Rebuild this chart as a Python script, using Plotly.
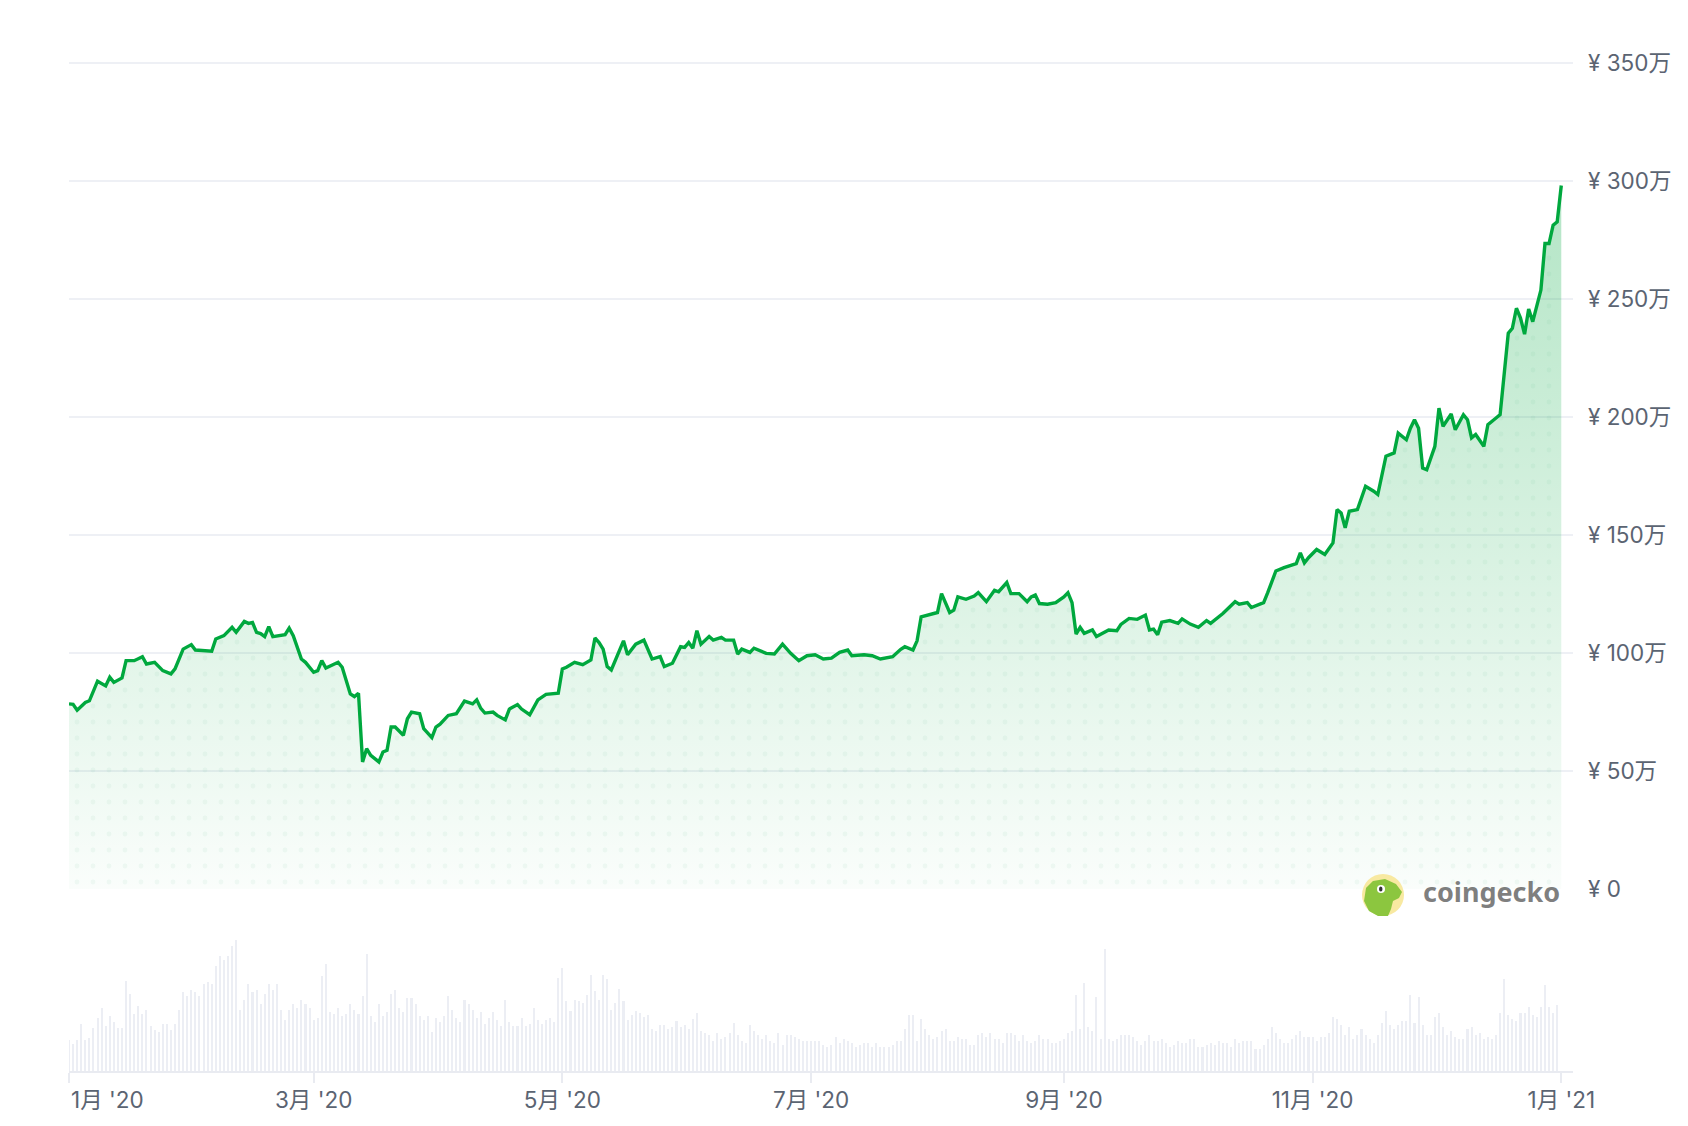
import pandas as pd
import plotly.graph_objects as go

# BTC/JPY 2020 - price in 万円 (day offset from 2020-01-01)
start = pd.Timestamp("2020-01-01")

price_days = [
    0, 1, 2, 4, 5, 7, 9, 10, 11, 13, 14, 16, 18, 19, 21, 23, 25, 26, 28, 30,
    31, 35, 36, 38, 40, 41, 43, 44, 45, 46, 47, 48, 49, 50, 53, 54, 55, 57, 58, 60,
    61, 62, 63, 66, 67, 69, 70, 71, 72, 73, 74, 76, 77, 78, 79, 80, 82, 83, 84, 86,
    87, 89, 90, 91, 93, 95, 97, 99, 100, 101, 102, 104, 105, 107, 108, 110, 111, 113, 115, 117,
    120, 121, 122, 124, 126, 128, 129, 130, 131, 132, 133, 134, 136, 137, 139, 141, 143, 145, 146, 148,
    150, 151, 152, 153, 154, 155, 157, 158, 160, 161, 163, 164, 165, 167, 168, 171, 173, 175, 177, 179,
    181, 183, 185, 187, 189, 191, 192, 195, 197, 199, 202, 204, 205, 207, 208, 209, 211, 213, 214, 216,
    217, 218, 220, 222, 223, 225, 227, 228, 230, 231, 233, 235, 236, 237, 238, 240, 242, 244, 245, 246,
    247, 248, 249, 251, 252, 255, 257, 258, 260, 262, 264, 265, 266, 267, 268, 270, 272, 273, 275, 277,
    279, 280, 283, 286, 287, 289, 290, 293, 294, 296, 298, 300, 301, 302, 303, 304, 306, 308, 310, 311,
    312, 313, 314, 316, 318, 320, 321, 323, 325, 326, 328, 329, 330, 331, 332, 333, 335, 336, 337, 339,
    340, 342, 343, 344, 345, 347, 348, 350, 351, 353, 354, 355, 356, 357, 358, 359, 360, 361, 362, 363,
    364, 365, 366,
]
price = [
    78.4, 78.2, 75.7, 79.0, 79.7, 88.0, 86.0, 89.7, 87.5, 89.4, 96.7, 96.7, 98.4, 95.3, 96.0, 92.5, 91.1, 93.2, 101.6, 103.5,
    101.2, 100.7, 105.9, 107.3, 110.8, 108.7, 113.3, 112.5, 112.9, 108.7, 108.2, 106.9, 111.1, 106.9, 107.7, 110.5, 107.3, 97.4, 96.0, 91.8,
    92.5, 96.7, 93.6, 96.0, 93.9, 82.6, 81.5, 82.9, 53.8, 59.4, 56.6, 53.8, 58.0, 58.7, 68.6, 68.6, 65.1, 72.1, 74.9, 74.2,
    67.9, 64.1, 68.6, 69.8, 73.5, 74.2, 79.6, 78.4, 80.1, 76.5, 74.5, 74.9, 73.5, 71.6, 76.2, 78.1, 76.2, 73.8, 80.1, 82.4,
    82.9, 93.2, 93.9, 96.0, 95.0, 97.0, 106.3, 104.4, 101.6, 94.2, 92.8, 96.7, 105.1, 99.2, 103.7, 105.4, 97.4, 98.4, 94.2, 95.6,
    102.6, 102.3, 104.4, 102.0, 109.4, 103.7, 106.9, 105.4, 106.6, 105.4, 105.4, 99.5, 101.6, 100.2, 102.0, 99.8, 99.5, 103.7, 99.8, 96.7,
    98.8, 99.2, 97.4, 97.8, 100.2, 101.2, 98.8, 99.2, 98.8, 97.4, 98.4, 101.5, 102.6, 101.2, 105.1, 115.3, 116.1, 117.1, 125.1, 117.1,
    118.1, 123.7, 122.7, 124.1, 125.5, 121.7, 126.5, 125.9, 129.8, 125.1, 125.1, 121.7, 123.7, 124.5, 120.9, 120.6, 121.3, 123.7, 125.5, 121.3,
    108.0, 110.8, 108.3, 109.7, 106.9, 109.7, 109.4, 112.1, 114.6, 114.2, 116.0, 109.7, 110.1, 107.7, 113.0, 113.7, 112.5, 114.4, 112.2, 110.8,
    113.7, 112.5, 116.7, 121.7, 120.6, 121.3, 119.2, 121.3, 125.5, 134.7, 136.1, 137.0, 137.8, 142.4, 138.1, 140.3, 143.8, 141.7, 146.6, 160.7,
    159.3, 153.0, 160.0, 160.7, 170.6, 168.5, 167.1, 183.3, 184.7, 193.1, 190.3, 195.2, 198.8, 195.2, 178.3, 177.6, 187.5, 203.7, 196.0, 201.2,
    194.5, 200.9, 198.8, 191.1, 192.5, 187.5, 196.7, 199.5, 200.9, 235.4, 237.5, 246.0, 241.8, 235.0, 245.7, 240.3, 246.7, 253.7, 273.4, 273.4,
    281.2, 282.6, 298.0,
]

# daily volume, relative units (read as bar heights), one per day from 2020-01-01
volume = [
    95, 83, 95, 143, 95, 100, 131, 161, 191, 137, 167, 149, 131, 131, 270, 233, 173, 197, 173, 185,
    137, 125, 119, 143, 143, 125, 143, 185, 239, 227, 245, 239, 227, 263, 269, 263, 317, 347, 335, 347,
    377, 395, 185, 215, 263, 239, 245, 203, 233, 263, 245, 263, 185, 155, 185, 203, 191, 215, 203, 191,
    155, 161, 287, 323, 179, 173, 191, 167, 173, 203, 185, 173, 227, 353, 167, 149, 203, 167, 179, 233,
    245, 191, 179, 221, 221, 203, 167, 155, 167, 119, 161, 149, 167, 227, 185, 161, 149, 215, 203, 185,
    161, 179, 143, 161, 179, 155, 137, 215, 149, 137, 137, 161, 137, 143, 191, 155, 143, 155, 161, 149,
    281, 311,
    210, 180, 215, 210, 205, 228, 288, 240, 215, 288, 276, 185, 204, 246, 210, 155, 168, 180, 174, 162,
    168, 126, 120, 138, 138, 126, 132, 150, 132, 138, 126, 156, 174, 120, 114, 108, 90, 114, 96, 102,
    114, 144, 108, 90, 84, 138, 120, 108, 96, 108, 90, 84, 114, 78, 108, 108, 102, 96, 90, 90,
    90, 90, 90, 78, 72, 78, 102, 84, 96, 90, 84, 72, 78, 84, 84, 72, 84, 72, 72, 72,
    78, 90, 90, 126, 168, 168, 90, 156, 126, 108, 96, 102, 120, 126, 90, 90, 102, 96, 96, 78,
    78, 108, 114, 102, 114, 96, 96, 84, 114, 114, 108, 90, 108, 90, 84, 90, 108, 96, 96, 84,
    84, 90, 96,
    114, 120, 228, 126, 264, 132, 120, 222, 96, 366, 96, 90, 96, 108, 108, 108, 102, 90, 78, 90,
    108, 90, 90, 96, 84, 72, 78, 90, 84, 84, 96, 96, 72, 72, 78, 84, 78, 90, 84, 84,
    72, 96, 84, 90, 90, 90, 66, 66, 78, 96, 132, 114, 96, 84, 84, 96, 108, 120, 102, 102,
    102, 90, 102, 102, 114, 162, 156, 138, 108, 132, 96, 108, 126, 108, 96, 84, 108, 144, 180, 138,
    126, 138, 150, 150, 228, 144, 222, 138, 108, 108, 162, 174, 132, 108, 120, 102, 96, 96, 126, 132,
    108, 114, 96, 102, 96, 108, 174, 276, 168, 156, 150, 174, 174, 192, 168, 162, 192, 258, 192, 174,
    198,
]

y_ticks = [0, 50, 100, 150, 200, 250, 300, 350]
y_labels = ["¥ 0", "¥ 50万", "¥ 100万", "¥ 150万", "¥ 200万",
            "¥ 250万", "¥ 300万", "¥ 350万"]
x_ticks = ["2020-01-01", "2020-03-01", "2020-05-01", "2020-07-01", "2020-09-01",
           "2020-11-01", "2021-01-01"]
x_labels = ["", "3月 '20", "5月 '20", "7月 '20", "9月 '20", "11月 '20", "1月 '21"]

dates = [start + pd.Timedelta(days=d) for d in price_days]
vol_dates = [start + pd.Timedelta(days=i) for i in range(len(volume))]

GREEN = '#00a83e'
GRAY_TXT = '#5b6472'
FONT = "Inter, 'Noto Sans CJK JP', sans-serif"

# page geometry (browser adds 8px body margin)
W, H = 1672, 1110
L, R, T, B = 61, 107, 50.3, 47
PW, PH = W - L - R, H - T - B
PRICE_BOTTOM = 881     # fig px of the ¥0 line
VOL_TOP = 929.7        # fig px of the volume axis top


def px(x, y):
    """page pixel -> paper coords"""
    return (x - 8 - L) / PW, (H - B - (y - 8)) / PH


fig = go.Figure()

fig.add_trace(go.Bar(
    x=vol_dates, y=volume, yaxis='y2',
    marker=dict(color='#eceef4', line=dict(width=0)),
    width=0.5 * 86400000, hoverinfo='skip', showlegend=False
))

# gradient fill
fig.add_trace(go.Scatter(
    x=dates, y=price, mode='none', fill='tozeroy',
    fillgradient=dict(type='vertical', start=0, stop=300,
                      colorscale=[[0, 'rgba(0,168,62,0.02)'], [1, 'rgba(0,168,62,0.30)']]),
    hoverinfo='skip', showlegend=False
))
# dotted pattern over the fill
fig.add_trace(go.Scatter(
    x=dates, y=price, mode='none', fill='tozeroy',
    fillcolor='rgba(0,0,0,0)',
    fillpattern=dict(shape='.', size=16, solidity=0.07,
                     fgcolor='rgba(0,140,60,0.09)', bgcolor='rgba(0,0,0,0)'),
    hoverinfo='skip', showlegend=False
))
fig.add_trace(go.Scatter(
    x=dates, y=price, mode='lines',
    line=dict(color=GREEN, width=3.4),
    name='価格', showlegend=False,
    hovertemplate='%{x|%Y-%m-%d}<br>¥%{y}万<extra></extra>'
))

# coingecko watermark
cx, cy = px(1383, 895)
rx = 21 / PW
ry = 21 / PH
shapes = [dict(type='circle', xref='paper', yref='paper',
               x0=cx - rx, x1=cx + rx, y0=cy - ry, y1=cy + ry,
               fillcolor='#f8e9a1', line=dict(width=0), layer='above')]
gecko = [(1364, 901), (1366, 888), (1373, 881), (1385, 879), (1396, 884), (1402, 892),
         (1399, 898), (1393, 901), (1391, 909), (1388, 916), (1378, 916), (1369, 911)]
pts = [px(a, b) for a, b in gecko]
path = 'M ' + ' L '.join(f'{a:.5f},{b:.5f}' for a, b in pts) + ' Z'
shapes.append(dict(type='path', xref='paper', yref='paper', path=path,
                   fillcolor='#8cc63f', line=dict(width=0), layer='above'))
ex, ey = px(1381, 889)
shapes.append(dict(type='circle', xref='paper', yref='paper',
                   x0=ex - 4 / PW, x1=ex + 4 / PW, y0=ey - 4 / PH, y1=ey + 4 / PH,
                   fillcolor='white', line=dict(width=0), layer='above'))
shapes.append(dict(type='circle', xref='paper', yref='paper',
                   x0=ex - 2 / PW, x1=ex + 1.5 / PW, y0=ey - 2.5 / PH, y1=ey + 2.5 / PH,
                   fillcolor='#333', line=dict(width=0), layer='above'))

tx, ty = px(1421, 892)
lx, ly = px(69, 1099)
annotations = [
    dict(text='coingecko', xref='paper', yref='paper', x=tx, y=ty,
         xanchor='left', yanchor='middle', showarrow=False,
         font=dict(family="'Noto Sans', sans-serif", size=27, color='rgba(85,85,85,0.75)',
                   weight='bold')),
    dict(text="1月 '20", xref='paper', yref='paper', x=lx, y=ly,
         xanchor='left', yanchor='middle', showarrow=False,
         font=dict(family=FONT, size=22.5, color=GRAY_TXT)),
]

fig.update_layout(
    width=W, height=H,
    margin=dict(l=L, r=R, t=T, b=B),
    paper_bgcolor='white', plot_bgcolor='white',
    font=dict(family=FONT, size=22, color=GRAY_TXT),
    showlegend=False,
    bargap=0,
    xaxis=dict(
        type='date', range=['2020-01-01', '2021-01-03 21:00'],
        anchor='y2', tickvals=x_ticks, ticktext=x_labels, automargin=False,
        showgrid=False, zeroline=False,
        showline=True, linecolor='#e9ebf1', linewidth=2,
        ticks='outside', ticklen=10, tickwidth=2, tickcolor='#e9ebf1',
        ticklabelstandoff=-2,
        tickfont=dict(size=22.5, color=GRAY_TXT),
    ),
    yaxis=dict(
        domain=[(H - B - PRICE_BOTTOM) / PH, 1], range=[0, 352], side='right', anchor='x',
        tickvals=y_ticks, ticktext=y_labels, automargin=False,
        showgrid=True, gridcolor='#eef0f5', gridwidth=2,
        zeroline=False, showline=False, ticks='', ticklabelstandoff=14,
        tickfont=dict(size=22.5, color=GRAY_TXT),
    ),
    yaxis2=dict(
        domain=[0, (H - B - VOL_TOP) / PH], range=[0, 400], anchor='x',
        visible=False, showgrid=False, zeroline=False, automargin=False,
    ),
    shapes=shapes,
    annotations=annotations,
)

fig.write_html("out.html")
